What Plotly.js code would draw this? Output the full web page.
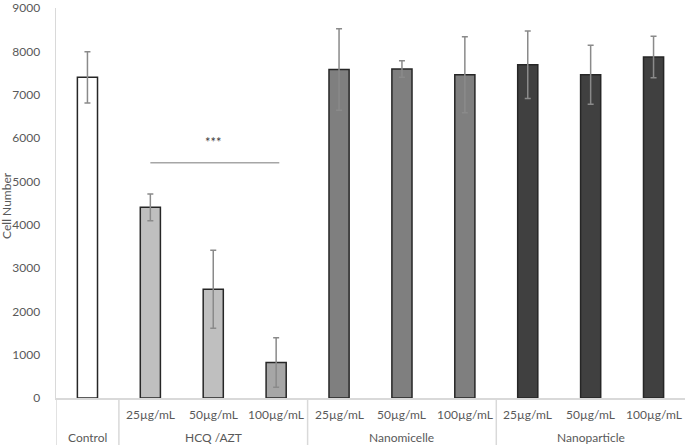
<!DOCTYPE html>
<html>
<head>
<meta charset="utf-8">
<script src="https://cdn.plot.ly/plotly-3.0.1.min.js"></script>
<style>body{margin:0;background:#fff;} #chart{width:685px;height:445px;}</style>
</head>
<body>
<div id="chart"></div>
<script>
// categories (group + dose)
var groups = ['Control', 'HCQ /AZT', 'Nanomicelle', 'Nanoparticle'];
var doses = ['25µg/mL', '50µg/mL', '100µg/mL'];
var y_ticks = [0, 1000, 2000, 3000, 4000, 5000, 6000, 7000, 8000, 9000];

var control_x = ['Control'];
var control_y = [7400];
var control_err = [590];

var hcq_x = ['HCQ 25', 'HCQ 50', 'HCQ 100'];
var hcq_y = [4400, 2510, 820];
var hcq_err = [310, 900, 570];

var micelle_x = ['Micelle 25', 'Micelle 50', 'Micelle 100'];
var micelle_y = [7580, 7590, 7460];
var micelle_err = [940, 190, 875];

var particle_x = ['Particle 25', 'Particle 50', 'Particle 100'];
var particle_y = [7690, 7460, 7870];
var particle_err = [780, 680, 480];

var all_x = control_x.concat(hcq_x, micelle_x, particle_x);

var txt_color = '#595959';
var edge = {color: '#262626', width: 1.5};

function make_trace(x, y, err, fill){
    return {
        x: x, y: y, type: 'bar', width: 0.32,
        marker: {color: fill, line: edge},
        error_y: {type: 'data', array: err, visible: true, color: '#8a8a8a', thickness: 1.5, width: 3},
        hoverinfo: 'none'
    };
}

var data = [
    make_trace(control_x, control_y, control_err, '#ffffff'),
    make_trace(hcq_x, hcq_y, hcq_err, ['#bfbfbf', '#bfbfbf', '#a6a6a6']),
    make_trace(micelle_x, micelle_y, micelle_err, '#7f7f7f'),
    make_trace(particle_x, particle_y, particle_err, '#404040')
];

// labels under the axis
var annotations = [];
var bottom_row = -0.1, top_row = -0.042;
function label(x, y, text){
    return {x: x, y: y, xref: 'x', yref: 'paper', text: text, showarrow: false, xanchor: 'center', yanchor: 'middle'};
}
annotations.push(label(control_x[0], bottom_row, groups[0]));
var group_x = [hcq_x, micelle_x, particle_x];
for (var g = 0; g < group_x.length; g++){
    for (var d = 0; d < doses.length; d++){
        annotations.push(label(group_x[g][d], top_row, doses[d]));
    }
    annotations.push(label(group_x[g][1], bottom_row, groups[g + 1]));
}
annotations.push({x: -0.078, y: 0.495, xref: 'paper', yref: 'paper', text: 'Cell Number', textangle: -90,
    showarrow: false, xanchor: 'center', yanchor: 'middle'});
annotations.push({x: 2, y: 5910, xref: 'x', yref: 'y', text: '***', showarrow: false,
    xanchor: 'center', yanchor: 'middle', font: {size: 13, color: '#404040'}});

var shapes = [];
var seps = [-0.5, 0.5, 3.5, 6.5];
for (var s = 0; s < seps.length; s++){
    shapes.push({type: 'line', xref: 'x', yref: 'paper', x0: seps[s], x1: seps[s], y0: 0, y1: -0.13, line: {color: '#d9d9d9', width: 1.5}});
}
shapes.push({type: 'line', xref: 'x', yref: 'y', x0: 1, x1: 3.05, y0: 5430, y1: 5430, line: {color: '#a6a6a6', width: 1.5}});

var layout = {
    width: 685, height: 445,
    margin: {l: 56, r: 0, t: 8, b: 47},
    paper_bgcolor: '#fff', plot_bgcolor: '#fff',
    showlegend: false,
    barmode: 'overlay',
    font: {family: 'Lato, "Noto Sans", sans-serif', size: 12, color: txt_color},
    xaxis: {
        type: 'category', categoryarray: all_x, categoryorder: 'array',
        range: [-0.5, 9.5], showticklabels: false, ticks: '',
        showline: true, linecolor: '#d9d9d9', linewidth: 1.5, showgrid: false, zeroline: false
    },
    yaxis: {
        range: [0, 9000], tickmode: 'array', tickvals: y_ticks, showgrid: false, zeroline: false,
        showline: true, linecolor: '#d9d9d9', linewidth: 1.5,
        ticks: '', ticklabelstandoff: 12, tickfont: {size: 12, color: txt_color}
    },
    annotations: annotations,
    shapes: shapes
};

Plotly.newPlot('chart', data, layout, {displayModeBar: false, staticPlot: true});
</script>
</body>
</html>
